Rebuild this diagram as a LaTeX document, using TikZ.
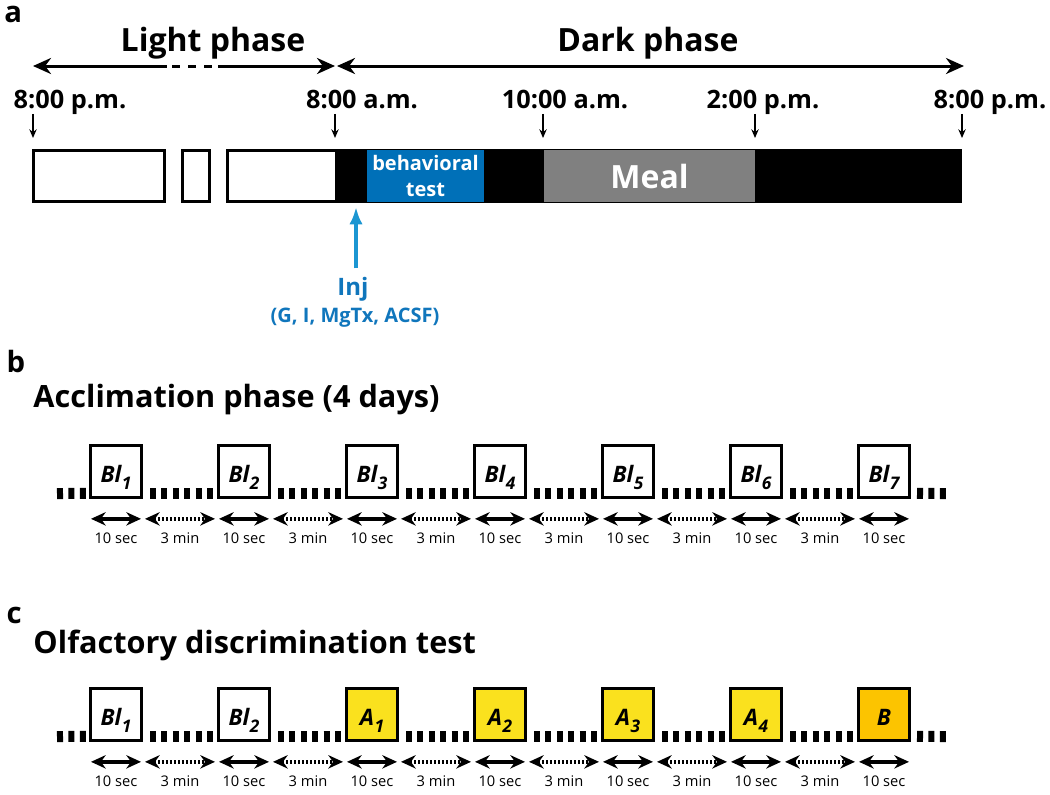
\documentclass[tikz,border=0pt]{standalone}
\usepackage{fontspec}
\setmainfont{Open Sans}
\usetikzlibrary{arrows.meta}

\definecolor{behavblue}{RGB}{0,112,184}
\definecolor{injblue}{RGB}{28,150,210}
\definecolor{injtext}{RGB}{16,118,188}
\definecolor{mealgray}{RGB}{128,128,128}
\definecolor{odorA}{RGB}{250,225,30}
\definecolor{odorB}{RGB}{252,196,0}

\newcommand{\trialsub}[1]{\kern0.3pt\raisebox{-5.5pt}{\fontsize{13}{13}\selectfont #1}}

\tikzset{every picture/.style={line width=0.75pt}}
\tikzset{
  panellabel/.style={anchor=base west, inner sep=0pt, font=\fontsize{22}{22}\selectfont\bfseries},
  phasetitle/.style={anchor=base, inner sep=0pt, font=\fontsize{24}{24}\selectfont\bfseries},
  timelabel/.style={anchor=base, inner sep=0pt, text depth=4pt, font=\fontsize{19}{19}\selectfont\bfseries},
  phasearrow/.style={line width=2.25pt, >={Stealth[length=13.5pt,width=12pt]}},
  timetick/.style={line width=1.1pt, -{Stealth[length=6.5pt,width=5.5pt]}},
  daybox/.style={draw, line width=2.2pt, fill=white},
  activity/.style={inner sep=0pt, minimum height=39pt, text=white, align=center, font=\bfseries},
  injarrow/.style={injblue, line width=3pt, -{Latex[length=13pt,width=10pt]}},
  heading/.style={anchor=base west, inner sep=0pt, font=\fontsize{23}{23}\selectfont\bfseries},
  trialbox/.style={draw, line width=2pt, fill=white, inner sep=0pt, minimum width=38.5pt, minimum height=39pt, text height=16pt, text depth=0pt, font=\fontsize{17}{17}\selectfont\bfseries\itshape},
  gapdash/.style={line width=8.25pt, dash pattern=on 4.5pt off 4.05pt, shorten <=5.25pt, shorten >=3pt},
  secarrow/.style={line width=2.5pt, shorten <=1.5pt, shorten >=1.5pt, <->, >={Stealth[length=11pt,width=10pt]}},
  minarrow/.style={secarrow, dash pattern=on 1.6pt off 1.4pt},
  durlabel/.style={midway, yshift=-14.25pt, font=\fontsize{11}{11}\selectfont},
}

\begin{document}
\begin{tikzpicture}[x=0.75pt,y=0.75pt,yscale=-1,xscale=1]
	\useasboundingbox (0,0) rectangle (1050,794);
	
	% ---------------- a ----------------
	\node[panellabel] (pa) at (4,22) {a};
	\node[phasetitle] (light) at (213,51) {Light phase};
	\node[phasetitle] (dark) at (648,51) {Dark phase};
	
	% phase arrows
	\draw[phasearrow, <-] (33,66) -- (167,66);
	\draw[phasearrow, dash pattern=on 6pt off 6pt] (172,66) -- (215,66);
	\draw[phasearrow, ->] (218,66) -- (335,66);
	\draw[phasearrow, <->] (337,66) -- (964,66);
	
	% clock times
	\node[timelabel] (pm8a) at (70,108) {8:00 p.m.};
	\node[timelabel] (am8) at (362,108) {8:00 a.m.};
	\node[timelabel] (am10) at (565,108) {10:00 a.m.};
	\node[timelabel] (pm2) at (763,108) {2:00 p.m.};
	\node[timelabel] (pm8b) at (990,108) {8:00 p.m.};
	\coordinate (tk1) at (33,138);
	\coordinate (tk2) at (335,138);
	\coordinate (tk3) at (543,138);
	\coordinate (tk4) at (755,138);
	\coordinate (tk5) at (962,138);
	\draw[timetick] (pm8a.south -| tk1) -- (tk1);
	\draw[timetick] (am8.south -| tk2) -- (tk2);
	\draw[timetick] (am10.south -| tk3) -- (tk3);
	\draw[timetick] (pm2.south -| tk4) -- (tk4);
	\draw[timetick] (pm8b.south -| tk5) -- (tk5);
	
	% light / dark bar
	\draw[daybox] (33.5,150.5) rectangle (164.5,201.5);
	\draw[daybox] (182.5,150.5) rectangle (209.5,201.5);
	\draw[daybox] (227.5,150.5) rectangle (336,201.5);
	\fill (335,149) rectangle (962,203);
	\node[activity, fill=behavblue, minimum width=87.75pt, font=\fontsize{15}{19.5}\selectfont\bfseries] (behav) at (425.5,176) {behavioral\\test};
	\node[activity, fill=mealgray, minimum width=158.25pt, font=\fontsize{24}{24}\selectfont\bfseries] (meal) at (649.5,176) {Meal};
	
	% injection
	\coordinate (injtip) at (356,207);
	\node[anchor=base, inner sep=0pt, text=injtext, font=\fontsize{18}{18}\selectfont\bfseries] (inj) at (353,295) {Inj};
	\node[anchor=base, inner sep=0pt, text=injtext, font=\fontsize{15}{15}\selectfont\bfseries] (injnote) at (355,322) {(G, I, MgTx, ACSF)};
	\draw[injarrow, shorten <=6pt] (inj.north -| injtip) -- (injtip);
	
	% ---------------- b ----------------
	\node[panellabel] (pb) at (6,372) {b};
	\node[heading] (acchead) at (33,407) {Acclimation phase (4 days)};
	
	\node[trialbox] (acc1) at (116,471.5) {Bl\trialsub{1}};
	\node[trialbox] (acc2) at (244,471.5) {Bl\trialsub{2}};
	\node[trialbox] (acc3) at (372,471.5) {Bl\trialsub{3}};
	\node[trialbox] (acc4) at (500,471.5) {Bl\trialsub{4}};
	\node[trialbox] (acc5) at (628,471.5) {Bl\trialsub{5}};
	\node[trialbox] (acc6) at (756,471.5) {Bl\trialsub{6}};
	\node[trialbox] (acc7) at (884,471.5) {Bl\trialsub{7}};
	\coordinate (accL) at (57,499);
	\coordinate (accR) at (946,499);
	
	\draw[gapdash, shorten <=0pt, shorten >=0pt] ([yshift=-4.1pt]accL) -- ([yshift=-4.1pt]acc1.south west);
	\draw[gapdash] ([yshift=-4.1pt]acc1.south east) -- ([yshift=-4.1pt]acc2.south west);
	\draw[gapdash] ([yshift=-4.1pt]acc2.south east) -- ([yshift=-4.1pt]acc3.south west);
	\draw[gapdash] ([yshift=-4.1pt]acc3.south east) -- ([yshift=-4.1pt]acc4.south west);
	\draw[gapdash] ([yshift=-4.1pt]acc4.south east) -- ([yshift=-4.1pt]acc5.south west);
	\draw[gapdash] ([yshift=-4.1pt]acc5.south east) -- ([yshift=-4.1pt]acc6.south west);
	\draw[gapdash] ([yshift=-4.1pt]acc6.south east) -- ([yshift=-4.1pt]acc7.south west);
	\draw[gapdash, shorten <=4.5pt, shorten >=0pt] ([yshift=-4.1pt]acc7.south east) -- ([yshift=-4.1pt]accR);
	
	\draw[secarrow] ([yshift=15pt]acc1.south west) -- ([yshift=15pt]acc1.south east) node[durlabel] {10 sec};
	\draw[minarrow] ([yshift=15pt]acc1.south east) -- ([yshift=15pt]acc2.south west) node[durlabel] {3 min};
	\draw[secarrow] ([yshift=15pt]acc2.south west) -- ([yshift=15pt]acc2.south east) node[durlabel] {10 sec};
	\draw[minarrow] ([yshift=15pt]acc2.south east) -- ([yshift=15pt]acc3.south west) node[durlabel] {3 min};
	\draw[secarrow] ([yshift=15pt]acc3.south west) -- ([yshift=15pt]acc3.south east) node[durlabel] {10 sec};
	\draw[minarrow] ([yshift=15pt]acc3.south east) -- ([yshift=15pt]acc4.south west) node[durlabel] {3 min};
	\draw[secarrow] ([yshift=15pt]acc4.south west) -- ([yshift=15pt]acc4.south east) node[durlabel] {10 sec};
	\draw[minarrow] ([yshift=15pt]acc4.south east) -- ([yshift=15pt]acc5.south west) node[durlabel] {3 min};
	\draw[secarrow] ([yshift=15pt]acc5.south west) -- ([yshift=15pt]acc5.south east) node[durlabel] {10 sec};
	\draw[minarrow] ([yshift=15pt]acc5.south east) -- ([yshift=15pt]acc6.south west) node[durlabel] {3 min};
	\draw[secarrow] ([yshift=15pt]acc6.south west) -- ([yshift=15pt]acc6.south east) node[durlabel] {10 sec};
	\draw[minarrow] ([yshift=15pt]acc6.south east) -- ([yshift=15pt]acc7.south west) node[durlabel] {3 min};
	\draw[secarrow] ([yshift=15pt]acc7.south west) -- ([yshift=15pt]acc7.south east) node[durlabel] {10 sec};
	
	% ---------------- c ----------------
	\node[panellabel] (pc) at (6,623) {c};
	\node[heading] (olfhead) at (33,653) {Olfactory discrimination test};
	
	\node[trialbox] (olf1) at (116,714.5) {Bl\trialsub{1}};
	\node[trialbox] (olf2) at (244,714.5) {Bl\trialsub{2}};
	\node[trialbox, fill=odorA] (olf3) at (372,714.5) {A\trialsub{1}};
	\node[trialbox, fill=odorA] (olf4) at (500,714.5) {A\trialsub{2}};
	\node[trialbox, fill=odorA] (olf5) at (628,714.5) {A\trialsub{3}};
	\node[trialbox, fill=odorA] (olf6) at (756,714.5) {A\trialsub{4}};
	\node[trialbox, fill=odorB] (olf7) at (884,714.5) {B};
	\coordinate (olfL) at (57,742);
	\coordinate (olfR) at (946,742);
	
	\draw[gapdash, shorten <=0pt, shorten >=0pt] ([yshift=-4.1pt]olfL) -- ([yshift=-4.1pt]olf1.south west);
	\draw[gapdash] ([yshift=-4.1pt]olf1.south east) -- ([yshift=-4.1pt]olf2.south west);
	\draw[gapdash] ([yshift=-4.1pt]olf2.south east) -- ([yshift=-4.1pt]olf3.south west);
	\draw[gapdash] ([yshift=-4.1pt]olf3.south east) -- ([yshift=-4.1pt]olf4.south west);
	\draw[gapdash] ([yshift=-4.1pt]olf4.south east) -- ([yshift=-4.1pt]olf5.south west);
	\draw[gapdash] ([yshift=-4.1pt]olf5.south east) -- ([yshift=-4.1pt]olf6.south west);
	\draw[gapdash] ([yshift=-4.1pt]olf6.south east) -- ([yshift=-4.1pt]olf7.south west);
	\draw[gapdash, shorten <=4.5pt, shorten >=0pt] ([yshift=-4.1pt]olf7.south east) -- ([yshift=-4.1pt]olfR);
	
	\draw[secarrow] ([yshift=15pt]olf1.south west) -- ([yshift=15pt]olf1.south east) node[durlabel] {10 sec};
	\draw[minarrow] ([yshift=15pt]olf1.south east) -- ([yshift=15pt]olf2.south west) node[durlabel] {3 min};
	\draw[secarrow] ([yshift=15pt]olf2.south west) -- ([yshift=15pt]olf2.south east) node[durlabel] {10 sec};
	\draw[minarrow] ([yshift=15pt]olf2.south east) -- ([yshift=15pt]olf3.south west) node[durlabel] {3 min};
	\draw[secarrow] ([yshift=15pt]olf3.south west) -- ([yshift=15pt]olf3.south east) node[durlabel] {10 sec};
	\draw[minarrow] ([yshift=15pt]olf3.south east) -- ([yshift=15pt]olf4.south west) node[durlabel] {3 min};
	\draw[secarrow] ([yshift=15pt]olf4.south west) -- ([yshift=15pt]olf4.south east) node[durlabel] {10 sec};
	\draw[minarrow] ([yshift=15pt]olf4.south east) -- ([yshift=15pt]olf5.south west) node[durlabel] {3 min};
	\draw[secarrow] ([yshift=15pt]olf5.south west) -- ([yshift=15pt]olf5.south east) node[durlabel] {10 sec};
	\draw[minarrow] ([yshift=15pt]olf5.south east) -- ([yshift=15pt]olf6.south west) node[durlabel] {3 min};
	\draw[secarrow] ([yshift=15pt]olf6.south west) -- ([yshift=15pt]olf6.south east) node[durlabel] {10 sec};
	\draw[minarrow] ([yshift=15pt]olf6.south east) -- ([yshift=15pt]olf7.south west) node[durlabel] {3 min};
	\draw[secarrow] ([yshift=15pt]olf7.south west) -- ([yshift=15pt]olf7.south east) node[durlabel] {10 sec};
	
\end{tikzpicture}
\end{document}
